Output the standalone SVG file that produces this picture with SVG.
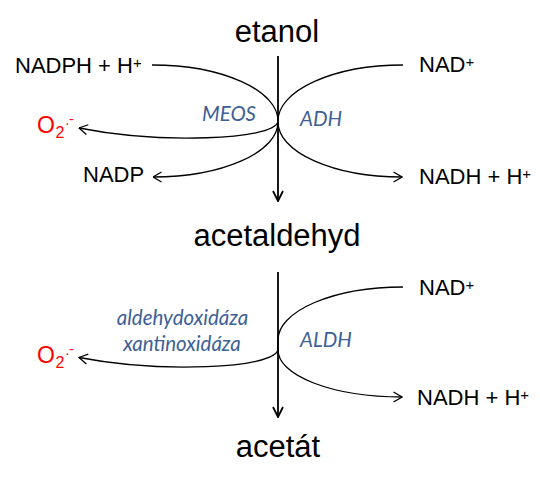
<svg xmlns="http://www.w3.org/2000/svg" width="540" height="484" viewBox="0 0 540 484">
<style>
text{font-family:'Liberation Sans',sans-serif}
.main{font-size:31px;fill:#000;text-anchor:middle}
.lab{font-size:22px;fill:#000}
.sup{font-size:15px}
.ox{font-size:23px;fill:#ff0000}
text.enz{font-family:Lato,'Open Sans',sans-serif;font-style:italic;font-size:20.5px;fill:#3d6096}
.c{fill:none;stroke:#000;stroke-width:1.3}
.v{fill:none;stroke:#000;stroke-width:1.8}
</style>
<defs>
<marker id="ah" viewBox="0 0 10 12" refX="9.5" refY="6" markerWidth="10" markerHeight="12" markerUnits="userSpaceOnUse" orient="auto">
<path d="M1,1 L9.5,6 L1,11" fill="none" stroke="#000" stroke-width="1.3"/>
</marker>
<marker id="av" viewBox="0 0 12 12" refX="11" refY="6" markerWidth="12" markerHeight="12" markerUnits="userSpaceOnUse" orient="auto">
<path d="M1,1 L11,6 L1,11" fill="none" stroke="#000" stroke-width="1.8"/>
</marker>
</defs>
<rect width="540" height="484" fill="#fff"/>
<g id="connectors">
<path class="v" d="M278,56 L278,201" marker-end="url(#av)"/>
<path class="c" d="M152,65 A126,56 0 0 1 278,121"/>
<path class="c" d="M403,65 A125,56 0 0 0 278,121"/>
<path class="c" d="M278,122 C272,140 160,144 79,128" marker-end="url(#ah)"/>
<path class="c" d="M278,122 A125,55 0 0 1 153,177" marker-end="url(#ah)"/>
<path class="c" d="M278,122 A124,55 0 0 0 402,177" marker-end="url(#ah)"/>
<path class="v" d="M278,272 L278,417" marker-end="url(#av)"/>
<path class="c" d="M403,287 A125,53 0 0 0 278,340 L278,350"/>
<path class="c" d="M278,350 C272,369 160,373 79,357.5" marker-end="url(#ah)"/>
<path class="c" d="M278,350 A124,47 0 0 0 402,397" marker-end="url(#ah)"/>
</g>
<g id="etanol"><text class="main" x="277" y="42">etanol</text></g>
<g id="acetaldehyd"><text class="main" x="277" y="246">acetaldehyd</text></g>
<g id="acetat"><text class="main" x="278" y="457">acetát</text></g>
<g id="nadph"><text class="lab" x="15" y="73">NADPH + H<tspan class="sup" dy="-5">+</tspan></text></g>
<g id="nad-1"><text class="lab" x="419" y="72">NAD<tspan class="sup" dy="-5">+</tspan></text></g>
<g id="nadp"><text class="lab" x="83" y="182">NADP</text></g>
<g id="nadh-1"><text class="lab" x="419" y="184">NADH + H<tspan class="sup" dy="-5">+</tspan></text></g>
<g id="o2-1"><text class="ox" x="37" y="132.5">O<tspan font-size="16" x="55.5" y="137.5">2</tspan><tspan font-size="14" x="65" y="127.5">·</tspan><tspan font-size="14" x="69" y="123.5">-</tspan></text></g>
<g id="meos"><text class="enz" x="202" y="121">MEOS</text></g>
<g id="adh"><text class="enz" x="300" y="126">ADH</text></g>
<g id="nad-2"><text class="lab" x="419" y="294.5">NAD<tspan class="sup" dy="-5">+</tspan></text></g>
<g id="nadh-2"><text class="lab" x="417" y="405">NADH + H<tspan class="sup" dy="-5">+</tspan></text></g>
<g id="o2-2"><text class="ox" x="37" y="362.5">O<tspan font-size="16" x="55.5" y="367.5">2</tspan><tspan font-size="14" x="65" y="357.5">·</tspan><tspan font-size="14" x="69" y="353.5">-</tspan></text></g>
<g id="oxidazy"><text class="enz" x="182.5" y="325" text-anchor="middle">aldehydoxidáza</text><text class="enz" x="182" y="351" text-anchor="middle">xantinoxidáza</text></g>
<g id="aldh"><text class="enz" x="300" y="347">ALDH</text></g>
</svg>
